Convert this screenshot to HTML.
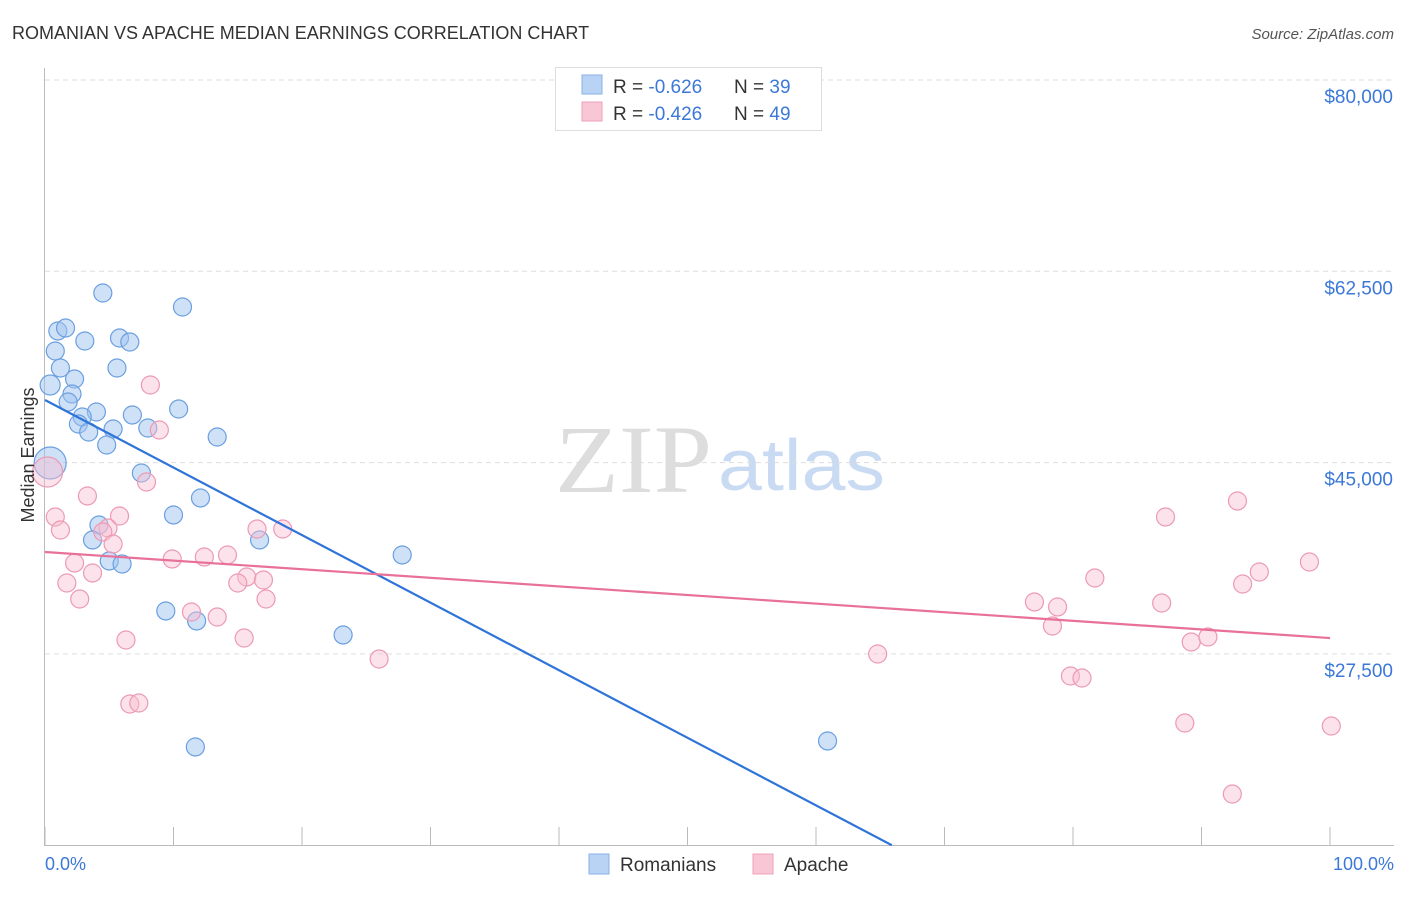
<!DOCTYPE html>
<html><head><meta charset="utf-8">
<style>
body{margin:0;background:#fff;font-family:"Liberation Sans",sans-serif;}
svg text{font-family:"Liberation Sans",sans-serif;}
</style></head>
<body>
<svg id="chart" width="1406" height="892" xmlns="http://www.w3.org/2000/svg">
<text x="12" y="39" font-size="18" fill="#333">ROMANIAN VS APACHE MEDIAN EARNINGS CORRELATION CHART</text>
<text x="1394" y="39" font-size="15" fill="#555" font-style="italic" text-anchor="end">Source: ZipAtlas.com</text>
<text x="555" y="492" font-size="96" fill="#ddd" textLength="157" lengthAdjust="spacingAndGlyphs" style="font-family:'Liberation Serif',serif">ZIP</text>
<text x="718" y="490" font-size="72" fill="#c9dbf3" textLength="167" lengthAdjust="spacingAndGlyphs">atlas</text>
<g id="grid"></g>
<g id="marks"></g>
<text transform="translate(34,455) rotate(-90)" font-size="18" fill="#333" text-anchor="middle">Median Earnings</text>
<text x="45" y="870" font-size="18" fill="#3b78d8">0.0%</text>
<text x="1394" y="870" font-size="18" fill="#3b78d8" text-anchor="end">100.0%</text>
<g>
<rect x="555.5" y="67.5" width="266" height="63" fill="#fff" stroke="#ddd"/>
<rect x="582" y="75" width="20" height="19" fill="#b9d3f5" stroke="#8ab2e8"/>
<rect x="582" y="102" width="20" height="19" fill="#f9c6d5" stroke="#f0a1b9"/>
<text x="613" y="93" font-size="19" fill="#333">R = <tspan fill="#3b78d8">-0.626</tspan></text>
<text x="734" y="93" font-size="19" fill="#333">N = <tspan fill="#3b78d8">39</tspan></text>
<text x="613" y="120" font-size="19" fill="#333">R = <tspan fill="#3b78d8">-0.426</tspan></text>
<text x="734" y="120" font-size="19" fill="#333">N = <tspan fill="#3b78d8">49</tspan></text>
</g>
<g>
<rect x="589" y="854" width="20" height="20" fill="#b9d3f5" stroke="#8ab2e8"/>
<text x="620" y="871" font-size="19" fill="#333">Romanians</text>
<rect x="753" y="854" width="20" height="20" fill="#f9c6d5" stroke="#f0a1b9"/>
<text x="784" y="871" font-size="19" fill="#333">Apache</text>
</g>
</svg>
<script>
const yTicks=[27500,45000,62500,80000];
const yTickLabels=["$27,500","$45,000","$62,500","$80,000"];
const xTicks=[0,10,20,30,40,50,60,70,80,90,100];
const romX=[4.5,10.7,1.0,1.6,3.1,5.8,6.6,0.8,1.2,5.6,2.3,0.4,2.1,1.8,4.0,2.9,6.8,10.4,2.6,3.4,5.3,8.0,4.8,13.4,0.4,7.5,12.1,10.0,4.2,3.7,16.7,5.0,6.0,27.8,9.4,11.8,23.2,11.7,60.9];
const romY=[60515,59234,57039,57313,56124,56398,56032,55209,53654,53654,52647,52099,51276,50544,49629,49172,49355,49903,48531,47799,48074,48165,46610,47342,44964,44049,41762,40207,39292,37920,37920,35999,35724,36548,31425,30510,29230,18984,19533];
const romBig=[0,0,0,0,0,0,0,0,0,0,0,1,0,0,0,0,0,0,0,0,0,0,0,0,2,0,0,0,0,0,0,0,0,0,0,0,0,0,0];
const apaX=[0.2,8.2,8.9,7.9,3.3,0.8,5.8,1.2,4.9,4.5,5.3,16.5,18.5,2.3,3.7,9.9,12.4,14.2,1.7,2.7,15.7,17.0,15.0,17.2,11.4,13.4,6.3,15.5,6.6,7.3,26.0,64.8,77.0,78.8,78.4,81.7,87.2,92.8,94.5,93.2,98.4,86.9,89.2,90.5,79.8,80.7,88.7,100.1,92.4];
const apaY=[44140,52099,47982,43225,41945,40024,40115,38834,39017,38651,37553,38925,38925,35816,34901,36182,36365,36548,33986,32522,34535,34260,33986,32522,31333,30875,28771,28954,22916,23008,27033,27491,32248,31791,30052,34443,40024,41487,34992,33894,35907,32156,28588,29045,25478,25295,21178,20903,14682];
const romLine=[50726,-618];
const apaLine=[36821,-78.7];

const NS="http://www.w3.org/2000/svg";
const X=p=>45+p*12.85;
const Y=v=>80+(80000-v)/17500*191.3;
function mk(tag,attrs,parent){const e=document.createElementNS(NS,tag);for(const k in attrs)e.setAttribute(k,attrs[k]);parent.appendChild(e);return e;}
const grid=document.getElementById('grid'),marks=document.getElementById('marks');
let ax=mk('line',{x1:44.5,y1:68,x2:44.5,y2:845,stroke:'#bbb'},grid);


let bx=mk('line',{x1:44,y1:845.5,x2:1394,y2:845.5,stroke:'#bbb'},grid);


yTicks.forEach((v,i)=>{
 const g=mk('line',{x1:45,y1:Y(v),x2:1394,y2:Y(v),stroke:'#ddd','stroke-dasharray':'5,4'},grid);
 
 
 const t=mk('text',{x:1393,y:Y(v)+23,'font-size':19,fill:'#3b78d8','text-anchor':'end'},grid);
 t.textContent=yTickLabels[i];
 
 
});
xTicks.forEach(p=>{
 const t=mk('line',{x1:X(p),y1:827,x2:X(p),y2:845,stroke:'#bbb'},grid);
 
 
});
romX.forEach((p,i)=>{
 const r=romBig[i]==2?16:(romBig[i]==1?10:9);
 const c=mk('circle',{cx:X(p),cy:Y(romY[i]),r:r,fill:'rgba(160,196,240,0.5)',stroke:'#6a9fe0','stroke-width':1.2},marks);
 
 
});
apaX.forEach((p,i)=>{
 const r=i==0?15:9;
 const c=mk('circle',{cx:X(p),cy:Y(apaY[i]),r:r,fill:'rgba(248,190,208,0.45)',stroke:'#ec9ab4','stroke-width':1.2},marks);
 
 
});
const xEnd=(10000-romLine[0])/romLine[1];
let l1=mk('line',{x1:X(0),y1:Y(romLine[0]),x2:X(xEnd),y2:Y(10000),stroke:'#2f74d8','stroke-width':2.2},marks);


let l2=mk('line',{x1:X(0),y1:Y(apaLine[0]),x2:X(100),y2:Y(apaLine[0]+apaLine[1]*100),stroke:'#e8709a','stroke-width':2.2},marks);


</script>
</body></html>
